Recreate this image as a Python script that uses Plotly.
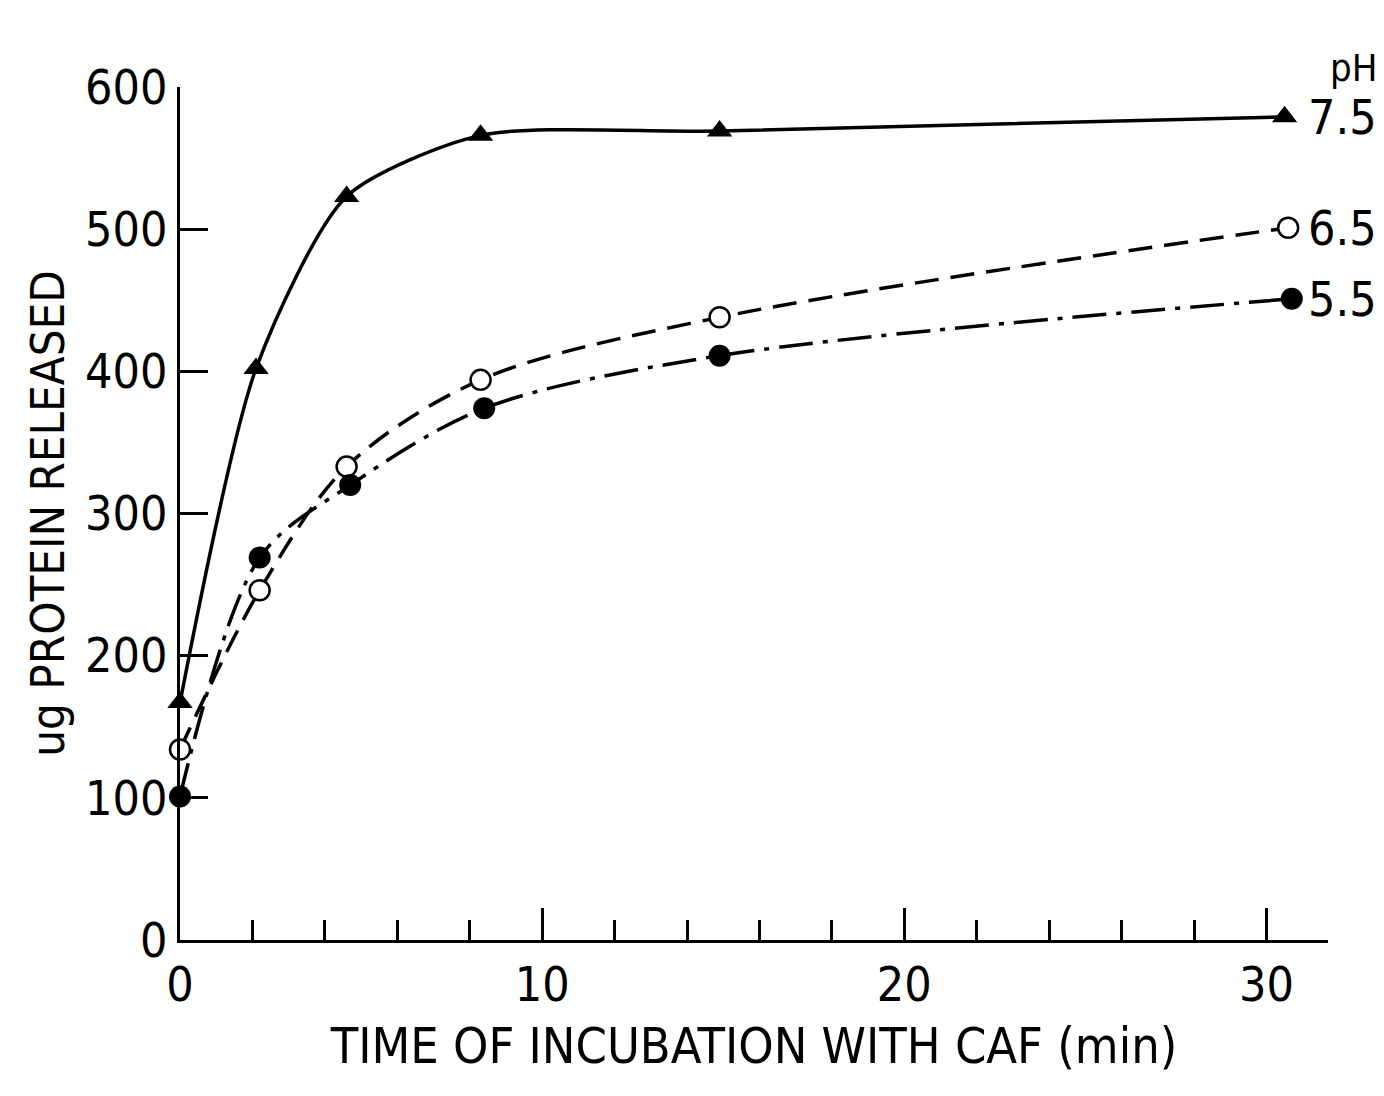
import plotly.graph_objects as go

time_75 = [0, 2.1, 4.6, 8.3, 14.9, 30.5]
prot_75 = [167, 402, 523, 566, 569, 579]

time_65 = [0, 2.2, 4.6, 8.3, 14.9, 30.6]
prot_65 = [134, 246, 333, 394, 438, 501]

time_55 = [0, 2.2, 4.7, 8.4, 14.9, 30.7]
prot_55 = [101, 269, 320, 374, 411, 451]

ph_labels = ["7.5", "6.5", "5.5"]
ph_label_y = [579, 501, 451]

FONT = "Liberation Sans Narrow, DejaVu Sans Condensed, Arial Narrow, sans-serif"

fig = go.Figure()

fig.add_trace(go.Scatter(
    x=time_75, y=prot_75, mode="lines+markers",
    line=dict(color="black", width=3.5, shape="spline", smoothing=0.7),
    marker=dict(symbol="triangle-up", size=22, color="black"),
    cliponaxis=False, showlegend=False))

fig.add_trace(go.Scatter(
    x=time_65, y=prot_65, mode="lines+markers",
    line=dict(color="black", width=3.5, shape="spline", smoothing=0.9, dash="24px,12px"),
    marker=dict(symbol="circle", size=20, color="white", line=dict(color="black", width=2.5)),
    cliponaxis=False, showlegend=False))

fig.add_trace(go.Scatter(
    x=time_55, y=prot_55, mode="lines+markers",
    line=dict(color="black", width=3.5, shape="spline", smoothing=0.9, dash="34px,10px,5px,10px"),
    marker=dict(symbol="circle", size=22, color="black"),
    cliponaxis=False, showlegend=False))

fig.add_annotation(x=1.044, y=1.022, xref="paper", yref="paper", text="pH", showarrow=False,
                   xanchor="right", yanchor="middle", font=dict(family=FONT, size=38, color="black"))
for lab, yv in zip(ph_labels, ph_label_y):
    fig.add_annotation(x=31.1, y=yv, xref="x", yref="y", text=lab, showarrow=False,
                       xanchor="left", yanchor="middle", font=dict(family=FONT, size=48, color="black"))

fig.update_layout(
    width=1384, height=1096,
    margin=dict(l=180, r=56, t=87, b=156),
    paper_bgcolor="white", plot_bgcolor="white",
    font=dict(family=FONT, color="black"),
    xaxis=dict(
        range=[0, 31.7], tickvals=[0, 10, 20, 30],
        ticks="inside", ticklen=32, tickwidth=3, tickcolor="black",
        showline=True, linecolor="black", linewidth=3,
        showgrid=False, zeroline=False,
        tickfont=dict(family=FONT, size=48, color="black"),
        minor=dict(dtick=2, ticks="inside", ticklen=20, tickwidth=3, tickcolor="black", showgrid=False),
        title=dict(text="TIME OF INCUBATION WITH CAF (min)", font=dict(family=FONT, size=50, color="black"), standoff=18),
    ),
    yaxis=dict(
        range=[0, 600], tickvals=[0, 100, 200, 300, 400, 500, 600],
        ticks="inside", ticklen=28, tickwidth=3, tickcolor="black",
        showline=True, linecolor="black", linewidth=3,
        showgrid=False, zeroline=False,
        tickfont=dict(family=FONT, size=48, color="black"),
        title=dict(text="ug PROTEIN RELEASED", font=dict(family=FONT, size=47, color="black"), standoff=6),
    ),
)

fig.write_html("out.html")
